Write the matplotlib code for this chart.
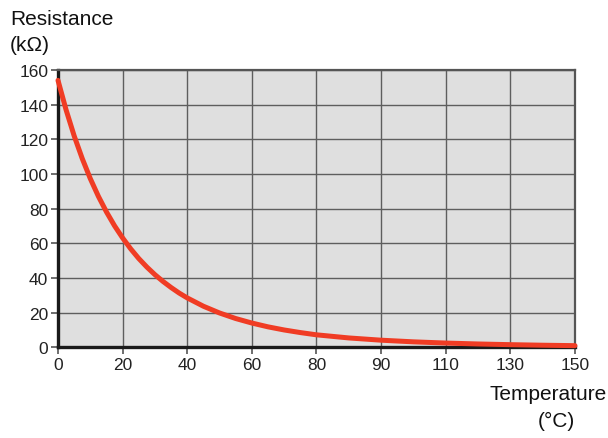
import numpy as np
import matplotlib.pyplot as plt

plt.rcParams['font.family'] = ['Liberation Sans', 'DejaVu Sans']

# Datos (posicion en el eje x, resistencia en kOhm)
temperatura = [0, 2.5, 5, 7.5, 10, 12.5, 15, 17.5, 20, 22.5, 25, 27.5, 30, 32.5, 35, 37.5, 40,
               45, 50, 55, 60, 65, 70, 75, 80, 90, 100, 110, 120, 130, 140, 150, 160]
resistencia = [154, 137.0, 122.0, 108.9, 97.3, 87.1, 78.1, 70.1, 63.1, 56.8, 51.2, 46.3, 41.9,
               38.0, 34.5, 31.3, 28.5, 23.7, 19.8, 16.6, 14.0, 11.8, 10.0, 8.5, 7.2,
               5.4, 4.1, 3.15, 2.45, 1.92, 1.52, 1.2, 0.95]

xticks = [0, 20, 40, 60, 80, 100, 120, 140, 160]
xtick_labels = ['0', '20', '40', '60', '80', '90', '110', '130', '150']
yticks = [0, 20, 40, 60, 80, 100, 120, 140, 160]

fig = plt.figure(figsize=(6.08, 4.39), dpi=100)
ax = fig.add_axes([0.0954, 0.2066, 0.8503, 0.6317])
ax.set_facecolor('#dfdfdf')

ax.plot(temperatura, resistencia, color='#f03c24', lw=3.6, solid_capstyle='round',
        solid_joinstyle='round', zorder=3, clip_on=False)

ax.set_xlim(0, 160)
ax.set_ylim(0, 160)
ax.set_xticks(xticks)
ax.set_xticklabels(xtick_labels)
ax.set_yticks(yticks)
ax.grid(True, color='#5e5e5e', lw=1.0)
ax.set_axisbelow(True)

for s in ['left', 'bottom']:
    ax.spines[s].set_color('#1a1a1a')
    ax.spines[s].set_linewidth(2.4)
for s in ['top', 'right']:
    ax.spines[s].set_color('#555555')
    ax.spines[s].set_linewidth(1.6)

ax.tick_params(axis='both', colors='#555555', labelcolor='#222222', labelsize=12.5,
               length=5, width=1.2, pad=2)

fig.text(0.0164, 0.943, 'Resistance', fontsize=15, color='#111111', va='baseline')
fig.text(0.0164, 0.8827, '(k\u03a9)', fontsize=15, color='#111111', va='baseline')
fig.text(0.9984, 0.088, 'Temperature', fontsize=15, color='#111111', ha='right', va='baseline')
fig.text(0.9145, 0.027, '(\u00b0C)', fontsize=15, color='#111111', ha='center', va='baseline')

fig.savefig('out.png', dpi=100)
